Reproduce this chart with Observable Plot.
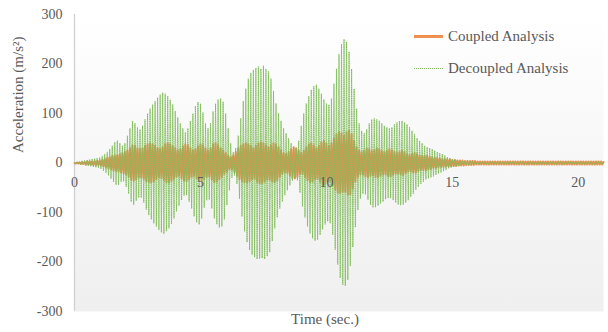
<!DOCTYPE html>
<html>
<head>
<meta charset="utf-8">
<script src="https://cdn.jsdelivr.net/npm/d3@7"></script>
<script src="https://cdn.jsdelivr.net/npm/@observablehq/plot@0.6"></script>
<style>
  html, body { margin: 0; padding: 0; background: #fff; }
  #wrap { position: relative; width: 608px; height: 332px; font-family: "Liberation Serif", "Times New Roman", Tinos, "DejaVu Serif", "Noto Serif", Times, serif; }
  .leg { position: absolute; left: 414px; display: flex; align-items: center; color: #595959; font-size: 15px; white-space: nowrap; font-family: inherit; }
  .leg .sw { width: 29px; margin-right: 5px; }
</style>
</head>
<body>
<div id="wrap"></div>
<script>
// ---- data: peak values, one every 0.05 s ----
const dt = 0.05;
const seriesNames = ["Coupled Analysis", "Decoupled Analysis"];
const coupled = [
  0,-1,1,-1,1,-2,2,-2,2,-3,3,-3,3,-3,3,-4,4,-4,4,-4,
  5,-5,6,-7,8,-9,10,-11,12,-13,14,-15,15,-16,16,-17,18,-19,20,-21,
  22,-23,25,-28,30,-34,36,-36,35,-33,30,-29,28,-29,30,-32,35,-37,38,-39,
  40,-39,38,-37,35,-33,30,-29,28,-30,32,-35,38,-39,40,-40,38,-36,34,-32,
  30,-28,25,-26,28,-31,34,-36,38,-37,36,-33,30,-28,25,-26,28,-31,34,-36,
  38,-37,36,-33,30,-28,25,-27,30,-34,38,-39,40,-38,36,-33,30,-28,25,-22,
  20,-18,15,-13,12,-13,15,-18,22,-26,30,-33,35,-37,38,-39,40,-39,38,-37,
  35,-33,30,-32,35,-38,40,-41,42,-41,40,-38,36,-34,32,-34,36,-38,40,-39,
  38,-35,32,-28,25,-22,20,-19,18,-20,22,-25,28,-30,32,-31,30,-28,25,-22,
  20,-22,25,-28,32,-35,38,-39,40,-38,36,-33,30,-32,35,-38,42,-44,45,-43,
  40,-38,35,-37,40,-45,50,-54,58,-60,62,-61,60,-58,55,-58,62,-64,65,-63,
  58,-52,45,-38,32,-28,25,-23,22,-23,25,-27,30,-29,28,-26,24,-25,26,-28,
  30,-29,28,-26,24,-23,22,-23,25,-27,28,-27,26,-24,22,-21,20,-21,22,-23,
  25,-24,22,-20,18,-17,16,-17,18,-19,20,-19,18,-16,15,-14,14,-14,15,-15,
  14,-13,12,-12,11,-10,10,-10,10,-9,9,-8,8,-8,8,-7,7,-7,7,-7,
  6,-6,6,-6,5,-5,5,-5,5,-5,4,-4,4,-4,4,-4,4,-4,4,-3,
  3,-3,3,-3,3,-3,3,-3,3,-3,3,-3,3,-3,3,-3,3,-3,3,-3,
  3,-3,3,-3,3,-3,3,-3,3,-3,3,-3,3,-3,3,-3,3,-3,3,-3,
  3,-3,3,-3,3,-3,3,-3,3,-3,3,-3,3,-3,3,-3,3,-3,3,-3,
  3,-3,3,-3,3,-3,3,-3,3,-3,3,-3,3,-3,3,-3,3,-3,3,-3,
  3,-3,3,-3,3,-3,3,-3,3,-3,3,-3,3,-3,3,-3,3,-3,3,-3,
  2
];
const decoupled = [
  0,-1,2,-2,3,-3,4,-4,5,-5,6,-6,7,-7,8,-8,9,-9,10,-10,
  11,-12,14,-16,18,-20,22,-25,28,-32,35,-38,42,-44,45,-44,40,-38,35,-37,
  40,-48,55,-62,70,-78,85,-84,80,-76,72,-70,68,-70,75,-80,88,-94,100,-105,
  110,-114,118,-122,125,-128,132,-135,138,-140,142,-143,140,-138,135,-132,128,-123,118,-112,
  105,-98,92,-86,80,-75,70,-66,62,-65,70,-78,85,-92,100,-108,115,-120,123,-124,
  120,-112,102,-90,80,-75,70,-74,80,-92,104,-112,120,-124,128,-130,130,-128,124,-114,
  100,-85,70,-55,40,-30,22,-25,30,-42,55,-72,90,-108,125,-138,150,-160,170,-176,
  182,-185,188,-190,192,-194,195,-193,190,-192,196,-194,190,-188,185,-180,170,-158,145,-132,
  120,-110,100,-92,85,-78,70,-65,60,-55,50,-45,40,-36,32,-30,30,-35,45,-60,
  75,-88,100,-110,120,-128,135,-142,148,-152,155,-157,158,-155,150,-145,140,-134,128,-124,
  120,-118,118,-122,130,-145,160,-175,190,-205,220,-232,240,-246,250,-248,245,-236,225,-208,
  190,-170,150,-130,110,-95,80,-72,65,-62,60,-63,68,-74,80,-84,88,-90,90,-89,
  88,-86,85,-82,80,-78,75,-73,72,-71,70,-71,72,-75,78,-80,82,-84,85,-85,
  85,-84,82,-80,78,-75,72,-68,65,-62,58,-54,50,-48,45,-42,40,-38,35,-33,
  32,-31,30,-29,28,-27,25,-24,22,-21,20,-19,18,-16,15,-14,12,-11,10,-9,
  8,-8,7,-7,6,-6,5,-5,5,-5,4,-4,4,-4,4,-4,3,-3,3,-3,
  3,-3,2,-3,3,-2,3,-3,2,-3,3,-2,3,-3,2,-3,3,-2,3,-3,
  2,-3,3,-2,3,-3,2,-3,3,-2,3,-3,2,-3,3,-2,3,-3,2,-3,
  3,-2,3,-3,2,-3,3,-2,3,-3,2,-3,3,-2,3,-3,2,-3,3,-2,
  3,-3,2,-3,3,-2,3,-3,2,-3,3,-2,3,-3,2,-3,3,-2,3,-3,
  2,-3,3,-2,3,-3,2,-3,3,-2,3,-3,2,-3,3,-2,3,-3,2,-3,
  2
];
const xTicks = [0, 5, 10, 15, 20];
const yTicks = [-300, -200, -100, 0, 100, 200, 300];
const colors = ["#ef8f50", "#7fbb5a"];
const serif = '"Liberation Serif", "Times New Roman", Tinos, "DejaVu Serif", "Noto Serif", Times, serif';

// ---- build rows ----
const rowsC = coupled.map((v, i) => ({t: i * dt, v}));
const rowsD = decoupled.map((v, i) => ({t: i * dt, v}));

const chart = Plot.plot({
  width: 608,
  height: 332,
  marginLeft: 74,
  marginRight: 5,
  marginTop: 14,
  marginBottom: 21,
  style: {fontFamily: serif, background: "transparent", color: "#595959"},
  x: {domain: [0, 21], axis: null},
  y: {domain: [-300, 300], axis: null},
  marks: [
    Plot.frame({fill: "url(#plotbg)", stroke: "none"}),
    Plot.ruleX([0], {stroke: "#d0d0d0", strokeWidth: 1.3}),
    Plot.line(rowsC, {x: "t", y: "v", stroke: colors[0], strokeWidth: 2}),
    Plot.line(rowsD, {x: "t", y: "v", stroke: colors[1], strokeWidth: 1, strokeDasharray: "1,1.2", strokeOpacity: 0.9}),
    Plot.text(xTicks, {x: d => d, y: 0, dy: 20, text: d => String(d), fontSize: 14, fill: "#595959", fontFamily: serif}),
    Plot.text(yTicks, {x: 0, y: d => d, dx: -12, text: d => String(d), textAnchor: "end", fontSize: 14, fill: "#595959", fontFamily: serif}),
    Plot.text(["Acceleration (m/s²)"], {frameAnchor: "left", dx: -56, dy: -10, rotate: -90, text: d => d, fontSize: 15, fill: "#595959", fontFamily: serif}),
    Plot.text(["Time (sec.)"], {frameAnchor: "bottom", dx: -14, dy: 12, text: d => d, fontSize: 15, fill: "#595959", fontFamily: serif})
  ]
});

// gradient background for the plot area
const ns = "http://www.w3.org/2000/svg";
const defs = document.createElementNS(ns, "defs");
defs.innerHTML = '<linearGradient id="plotbg" x1="0" y1="0" x2="0" y2="1"><stop offset="0" stop-color="#ffffff"/><stop offset="1" stop-color="#efefef"/></linearGradient>';
chart.insertBefore(defs, chart.firstChild);

const wrap = document.getElementById("wrap");
wrap.appendChild(chart);

// legend overlay
const legendItems = [
  {name: seriesNames[0], top: 28, style: `border-top: 3px solid ${colors[0]}`},
  {name: seriesNames[1], top: 60, style: `border-top: 1.5px dotted ${colors[1]}`}
];
for (const it of legendItems) {
  const d = document.createElement("div");
  d.className = "leg";
  d.style.top = it.top + "px";
  d.innerHTML = `<span class="sw" style="${it.style}"></span><span>${it.name}</span>`;
  wrap.appendChild(d);
}
</script>
</body>
</html>
